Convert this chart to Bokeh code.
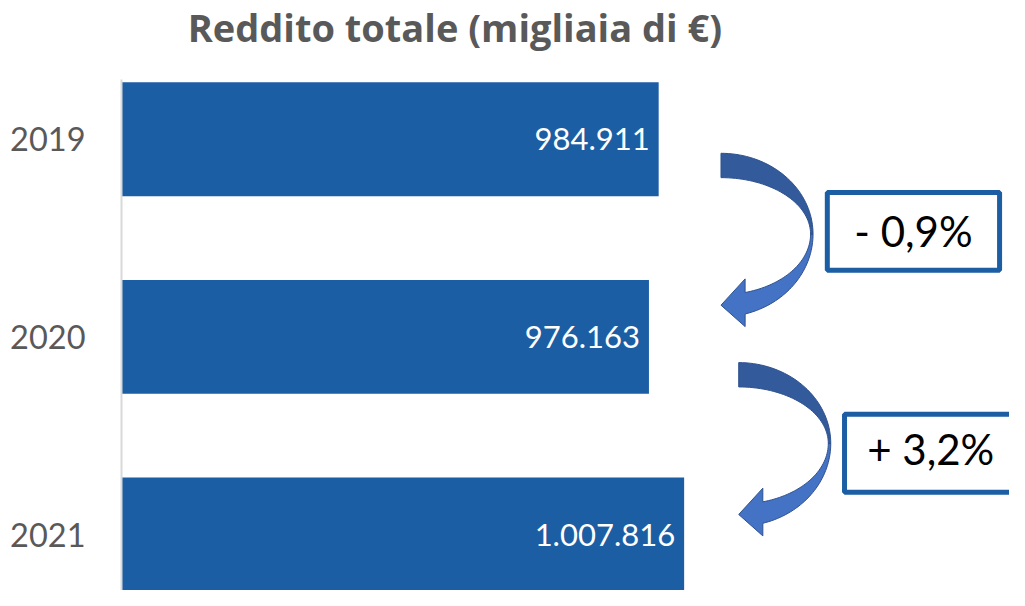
import numpy as np
from bokeh.plotting import figure
from bokeh.models import Range1d, FixedTicker, ColumnDataSource, Label
from bokeh.core.properties import value
from bokeh.embed import file_html
from bokeh.resources import INLINE

# ---------------- data ----------------
years = ["2019", "2020", "2021"]
income = [984911, 976163, 1007816]          # migliaia di €
title_text = "Reddito totale (migliaia di €)"


def it_num(v):
    return f"{v:,}".replace(",", ".")


def it_pct(a, b):
    c = (b - a) / a * 100
    sign = "+" if c >= 0 else "-"
    return f"{sign} {abs(c):.1f}%".replace(".", ",")


bar_labels = [it_num(v) for v in income]
changes = [it_pct(income[i], income[i + 1]) for i in range(len(income) - 1)]

# ---------------- layout ----------------
W, H = 1009, 590
LEFT = 121
SX, SY = W / 1025, H / 606            # picture -> canvas scale
REF_PX_PER_UNIT = 0.0011293           # horizontal scale
UNIT = 1.0 / REF_PX_PER_UNIT          # data units per picture pixel (x)
REF_ROW = 203.0                        # picture pixels per category
X_START = 501700
X_END = X_START + (1025 - LEFT / SX) * UNIT
Y_TOP = (0 - 142.5) / REF_ROW
Y_BOTTOM = (606 - 142.5) / REF_ROW

BAR_COLOR = "#1B5EA4"
GREY = "#595959"

p = figure(width=W, height=H, x_range=Range1d(X_START, X_END),
           y_range=Range1d(Y_BOTTOM, Y_TOP), output_backend="svg",
           toolbar_location=None, x_axis_location=None,
           min_border_left=LEFT, min_border_right=0, min_border_bottom=0,
           min_border_top=0, outline_line_color=None,
           background_fill_color="white", border_fill_color="white")
p.xgrid.visible = False
p.ygrid.visible = False
p.title.text = ""
p.title.standoff = 0

idx = list(range(len(years)))
src = ColumnDataSource(dict(y=idx, right=income, label=bar_labels))
p.hbar(y="y", right="right", left=X_START, height=117 / REF_ROW, source=src,
       fill_color=BAR_COLOR, line_color=None)
p.text(x="right", y="y", text="label", source=src, x_offset=-9,
       text_align="right", text_baseline="middle", text_color="white",
       text_font=value("Lato"), text_font_size="31px")

ax = p.yaxis[0]
ax.ticker = FixedTicker(ticks=idx)
ax.major_label_overrides = {i: y for i, y in zip(idx, years)}
ax.major_tick_line_color = None
ax.minor_tick_line_color = None
ax.major_tick_out = 0
ax.major_tick_in = 0
ax.axis_line_color = "#D9D9D9"
ax.axis_line_width = 2
ax.bounds = (Y_BOTTOM, -0.3)
ax.major_label_standoff = 36
ax.major_label_text_font = "Lato"
ax.major_label_text_font_size = "32.5px"
ax.major_label_text_color = GREY

# chart title
title = Label(x=X_START + (461.7 - 123) * UNIT, y=(26.8 - 142.5) / REF_ROW,
              text=title_text, text_font="Open Sans", text_font_style="bold",
              text_font_size="38px", text_color=GREY, text_align="center",
              text_baseline="alphabetic")
p.add_layout(title)

# ---------------- change arrows and boxes ----------------
arrow_x = [1040973, 1056911]
arrow_y = [0.480, 1.539]
box_x = [1214088, 1229584]
box_y = [0.466, 1.589]
box_text_y = [0.462, 1.566]


def arc(rx, ry, a0, a1, n=40):
    a = np.radians(np.linspace(a0, a1, n))
    return rx * np.cos(a), ry * np.sin(a)


def arrow_shapes(x0, y0):
    # top (darker) half: outer then inner arc, angles from +x, y pointing down
    ox, oy = arc(93.5, 83, -90, 0)
    ix, iy = arc(91, 58, 0, -90)
    top_x = np.concatenate([ox, ix])
    top_y = np.concatenate([oy, iy])
    # bottom (lighter) half with arrow head
    ox2, oy2 = arc(93.5, 85, 0, 74.8)
    ix2, iy2 = arc(91, 62.3, 74.4, 0)
    head_x = np.array([24.5, 0.0, 24.5])
    head_y = np.array([95.0, 73.0, 46.0])
    bot_x = np.concatenate([ox2, head_x, ix2])
    bot_y = np.concatenate([oy2, head_y, iy2])
    conv = lambda xs, ys: (list(x0 + xs * UNIT), list(y0 + ys / REF_ROW))
    return conv(top_x, top_y), conv(bot_x, bot_y)


for ax_, ay_ in zip(arrow_x, arrow_y):
    (tx, ty), (bx, by) = arrow_shapes(ax_, ay_)
    p.patch(bx, by, fill_color="#4472C4", line_color="#2F528F", line_width=1)
    p.patch(tx, ty, fill_color="#335A9A", line_color="#2F528F", line_width=1)

p.rect(x=box_x, y=box_y, width=175 * UNIT, height=80 / REF_ROW,
       fill_color="white", line_color=BAR_COLOR, line_width=5)
p.text(x=box_x, y=box_text_y, text=changes, text_align="center",
       text_baseline="middle", text_color="black",
       text_font=value("Lato"), text_font_size="42px")

open("out.html", "w").write(file_html(p, INLINE))
